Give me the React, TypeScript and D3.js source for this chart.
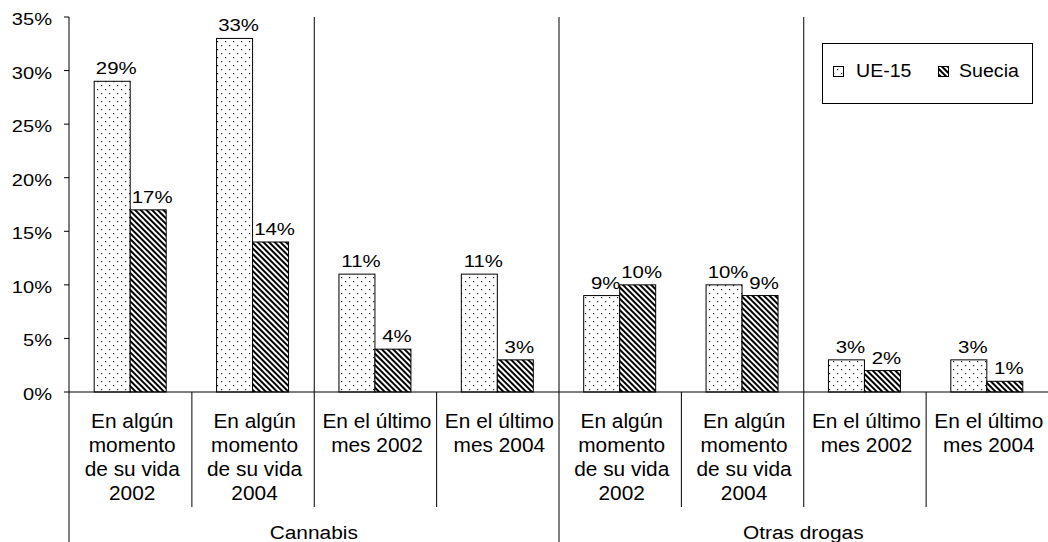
import React from "react";
import * as d3 from "d3";

// categorías del eje x (dos niveles)
const groups = ["Cannabis", "Otras drogas"];
const subLabels = [
  ["En algún", "momento", "de su vida", "2002"],
  ["En algún", "momento", "de su vida", "2004"],
  ["En el último", "mes 2002"],
  ["En el último", "mes 2004"],
  ["En algún", "momento", "de su vida", "2002"],
  ["En algún", "momento", "de su vida", "2004"],
  ["En el último", "mes 2002"],
  ["En el último", "mes 2004"],
];
const series = ["UE-15", "Suecia"];
const ue15 = [29, 33, 11, 11, 9, 10, 3, 3];
const suecia = [17, 14, 4, 3, 10, 9, 2, 1];
const yTicks = [0, 5, 10, 15, 20, 25, 30, 35];

const W = 1048;
const H = 542;
const font = "'Liberation Sans', Arial, sans-serif";

// texto con un poco de estiramiento horizontal, como en la imagen original
function T({ x, y, size, sx, anchor = "start", children }: any) {
  return (
    <text
      transform={`translate(${x},${y}) scale(${sx},1)`}
      textAnchor={anchor}
      fontSize={size}
      fill="#000"
    >
      {children}
    </text>
  );
}

export default function App() {
  const left = 69;
  const right = 1048;
  const top = 17;
  const bottom = 392;

  const y = d3.scaleLinear().domain([0, 35]).range([bottom, top]);
  const idx = d3.range(subLabels.length);
  const x = d3.scaleBand<number>().domain(idx).range([left, right]).padding(0);
  const inner = d3
    .scaleBand<string>()
    .domain(series)
    .range([0, x.bandwidth()])
    .paddingInner(0)
    .paddingOuter(0.7);

  const groupW = (right - left) / groups.length;
  const fills = ["url(#dots)", "url(#stripes)"];
  const values = [ue15, suecia];

  return (
    <svg
      width={W}
      height={H}
      style={{ position: "absolute", left: 0, top: 0, background: "#fff" }}
      fontFamily={font}
    >
      <defs>
        <pattern id="dots" width={8} height={8} patternUnits="userSpaceOnUse">
          <rect width={8} height={8} fill="#fff" />
          <rect x={1} y={1} width={1.2} height={1.2} fill="#222" />
          <rect x={5} y={5} width={1.2} height={1.2} fill="#222" />
        </pattern>
        <pattern
          id="stripes"
          width={4}
          height={4}
          patternUnits="userSpaceOnUse"
          patternTransform="rotate(45)"
        >
          <rect width={4} height={4} fill="#fff" />
          <rect width={4} height={2} fill="#000" />
        </pattern>
      </defs>

      {/* eje y */}
      {yTicks.map((t) => (
        <g key={t}>
          <line x1={left - 5} x2={left} y1={y(t)} y2={y(t)} stroke="#000" />
          <T x={left - 17} y={y(t) + 8} size={17} sx={1.18} anchor="end">
            {t}%
          </T>
        </g>
      ))}
      <line x1={left} x2={left} y1={top} y2={H} stroke="#000" />

      {/* líneas verticales del área */}
      {[2, 4, 6].map((i) => (
        <line
          key={i}
          x1={x(i)! + 0.5}
          x2={x(i)! + 0.5}
          y1={top}
          y2={bottom}
          stroke="#000"
        />
      ))}

      {/* barras */}
      {idx.map((i) =>
        series.map((s, k) => {
          const v = values[k][i];
          const bx = x(i)! + inner(s)!;
          return (
            <g key={i + s}>
              <rect
                x={bx}
                y={y(v)}
                width={inner.bandwidth()}
                height={bottom - y(v)}
                fill={fills[k]}
                stroke="#000"
                strokeWidth={1}
              />
              <T
                x={bx + inner.bandwidth() / 2 + 4}
                y={y(v) - 7}
                size={17}
                sx={1.2}
                anchor="middle"
              >
                {v}%
              </T>
            </g>
          );
        })
      )}

      {/* eje x */}
      <line x1={left} x2={right} y1={bottom} y2={bottom} stroke="#000" />
      {idx.slice(1).map((i) => (
        <line
          key={i}
          x1={x(i)! + 0.5}
          x2={x(i)! + 0.5}
          y1={bottom}
          y2={i === 4 ? H : 507}
          stroke="#000"
        />
      ))}
      {idx.map((i) =>
        subLabels[i].map((l, j) => (
          <T
            key={i + "-" + j}
            x={x(i)! + x.bandwidth() / 2 + 2}
            y={428 + j * 24}
            size={19.5}
            sx={1.07}
            anchor="middle"
          >
            {l}
          </T>
        ))
      )}
      {groups.map((g, gi) => (
        <T
          key={g}
          x={left + groupW * (gi + 0.5)}
          y={539}
          size={18}
          sx={1.16}
          anchor="middle"
        >
          {g}
        </T>
      ))}

      {/* leyenda */}
      <g>
        <rect x={822.5} y={43.5} width={210} height={60} fill="#fff" stroke="#000" />
        <rect x={833.5} y={66.5} width={10} height={10} fill="url(#dots)" stroke="#000" />
        <T x={856} y={77} size={17.5} sx={1.12}>
          {series[0]}
        </T>
        <rect x={938.5} y={66.5} width={10} height={10} fill="url(#stripes)" stroke="#000" />
        <T x={959} y={77} size={17.5} sx={1.12}>
          {series[1]}
        </T>
      </g>
    </svg>
  );
}
